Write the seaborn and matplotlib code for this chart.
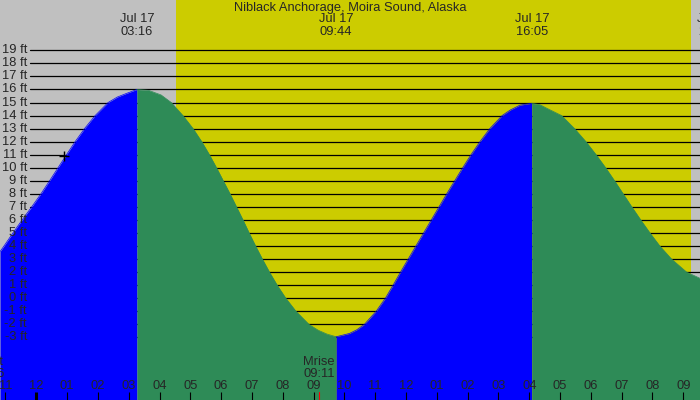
import numpy as np
import pandas as pd
import matplotlib
matplotlib.use("Agg")
import matplotlib.pyplot as plt
import matplotlib.transforms as mtransforms
import seaborn as sns

title = "Niblack Anchorage, Moira Sound, Alaska"

# tide curve: hours after midnight Jul 17 -> height (ft)
tide_hours = [-1.178, -1.05, -0.76, -0.46, -0.15, 0.15, 0.43, 0.705, 0.98,
              1.26, 1.565, 1.91, 2.33, 2.63, 2.93, 3.267,
              3.65, 4.05, 4.38, 4.76, 5.09, 5.37, 5.62, 5.85, 6.07, 6.29, 6.50, 6.71,
              6.91, 7.12, 7.34, 7.57, 7.82, 8.10, 8.43, 8.85, 9.15, 9.43, 9.733,
              10.16, 10.4, 10.65, 11.03, 11.33, 11.58, 11.82, 12.07, 12.32, 12.57, 12.82,
              13.07, 13.32, 13.58, 13.84, 14.11, 14.40, 14.72, 15.12, 15.38, 15.70, 16.083,
              16.35, 16.57, 17.05, 17.47, 17.84, 18.17, 18.48, 18.77, 19.05, 19.33, 19.62,
              19.92, 20.24, 20.62, 21.11, 21.542]
tide_ft = [3.57, 4, 5, 6, 7, 8, 9, 10, 11,
           12, 13, 14, 15, 15.42, 15.7, 16.0,
           15.93, 15.58, 15, 14, 13, 12, 11, 10, 9, 8, 7, 6,
           5, 4, 3, 2, 1, 0, -1, -2, -2.45, -2.74, -2.95,
           -2.7, -2.42, -2, -1, 0, 1, 2, 3, 4, 5, 6,
           7, 8, 9, 10, 11, 12, 13, 14, 14.42, 14.8, 14.94,
           14.83, 14.56, 14, 13, 12, 11, 10, 9, 8, 7, 6,
           5, 4, 3, 2, 1.53]

# high / low tide times shown at the top
extreme_hours = [3.267, 9.733, 16.083, 22.02]
extreme_labels = ["03:16", "09:44", "16:05", "22:01"]
date_label = "Jul 17"

sunrise, sunset = 4.52, 21.25
moonrise, moonrise_label = 9.183, "09:11"
moonset, moonset_label = -1.54, "22:26"
now_hour, now_ft = 0.905, 10.92

ft_levels = list(range(-3, 20))
hour_ticks = list(range(-1, 22))

GRAY = "#c0c0c0"
YELLOW = "#cccc00"
BLUE = "#0000ff"
GREEN = "#2e8b57"

sns.set_style("white")
plt.rcParams["font.family"] = ["Liberation Sans", "DejaVu Sans"]
FS = 9.3

df = pd.DataFrame({"hour": tide_hours, "ft": tide_ft})

fig = plt.figure(figsize=(7, 4), dpi=100, facecolor=GRAY)
ax = fig.add_axes([0, 0, 1, 1])
xmin, xmax = -1.178, 21.542
ymin, ymax = -7.797, 22.855
ax.set_xlim(xmin, xmax)
ax.set_ylim(ymin, ymax)

# daylight
ax.axvspan(sunrise, sunset, color=YELLOW, lw=0, zorder=0)

# horizontal ft lines
for lv in ft_levels:
    ax.axhline(lv, xmin=30 / 700, xmax=1, color="black", lw=0.9, zorder=1)

# rising = blue, falling = green
bounds = [xmin] + extreme_hours[:3] + [xmax]
colors = [BLUE, GREEN, BLUE, GREEN]
for a, b, c in zip(bounds[:-1], bounds[1:], colors):
    seg = df[(df["hour"] >= a) & (df["hour"] <= b)]
    ax.fill_between(seg["hour"], seg["ft"], ymin, color=c, lw=0, zorder=2)
    sns.lineplot(data=seg, x="hour", y="ft", color=c, lw=0.5, ax=ax, zorder=2)
ax.set_xlim(xmin, xmax)
ax.set_ylim(ymin, ymax)
ax.axis("off")

# ft labels
ytrans = mtransforms.blended_transform_factory(ax.transAxes, ax.transData)
for lv in ft_levels:
    ax.text(27 / 700, lv, f"{lv} ft", transform=ytrans, ha="right", va="center",
            fontsize=FS, zorder=4)

xtrans = mtransforms.blended_transform_factory(ax.transData, ax.transAxes)

# title and high/low labels
ax.text(0.5, 1 - 7.5 / 400, title, transform=ax.transAxes, ha="center",
        va="center", fontsize=FS, zorder=4)
for h, lab in zip(extreme_hours, extreme_labels):
    ax.text(h, 1 - 19.3 / 400, date_label, transform=xtrans, ha="center",
            va="center", fontsize=FS, zorder=4, clip_on=False)
    ax.text(h, 1 - 31.7 / 400, lab, transform=xtrans, ha="center",
            va="center", fontsize=FS, zorder=4, clip_on=False)

# hour ticks along the bottom
for h in hour_ticks:
    lab = f"{(h % 12) or 12:02d}"
    ax.text(h, 14 / 400, lab, transform=xtrans, ha="center", va="center",
            fontsize=FS, zorder=4)
    lw = 2.2 if h % 24 == 0 else 0.8
    ax.plot([h, h], [0, 8 / 400], transform=xtrans, color="black", lw=lw,
            zorder=4, solid_capstyle="butt")

# moon rise / set
for h, name, lab in [(moonrise, "Mrise", moonrise_label), (moonset, "Mset", moonset_label)]:
    ax.text(h, 38.3 / 400, name, transform=xtrans, ha="center", va="center",
            fontsize=FS, zorder=4, clip_on=False)
    ax.text(h, 26.3 / 400, lab, transform=xtrans, ha="center", va="center",
            fontsize=FS, zorder=4, clip_on=False)
ax.plot([moonrise, moonrise], [0, 8 / 400], transform=xtrans, color="red",
        lw=0.8, zorder=4)

# current time marker
ax.plot(now_hour, now_ft, marker="+", ms=7, mew=1, color="black", zorder=5)

fig.savefig("out.png", dpi=100, facecolor=GRAY)
